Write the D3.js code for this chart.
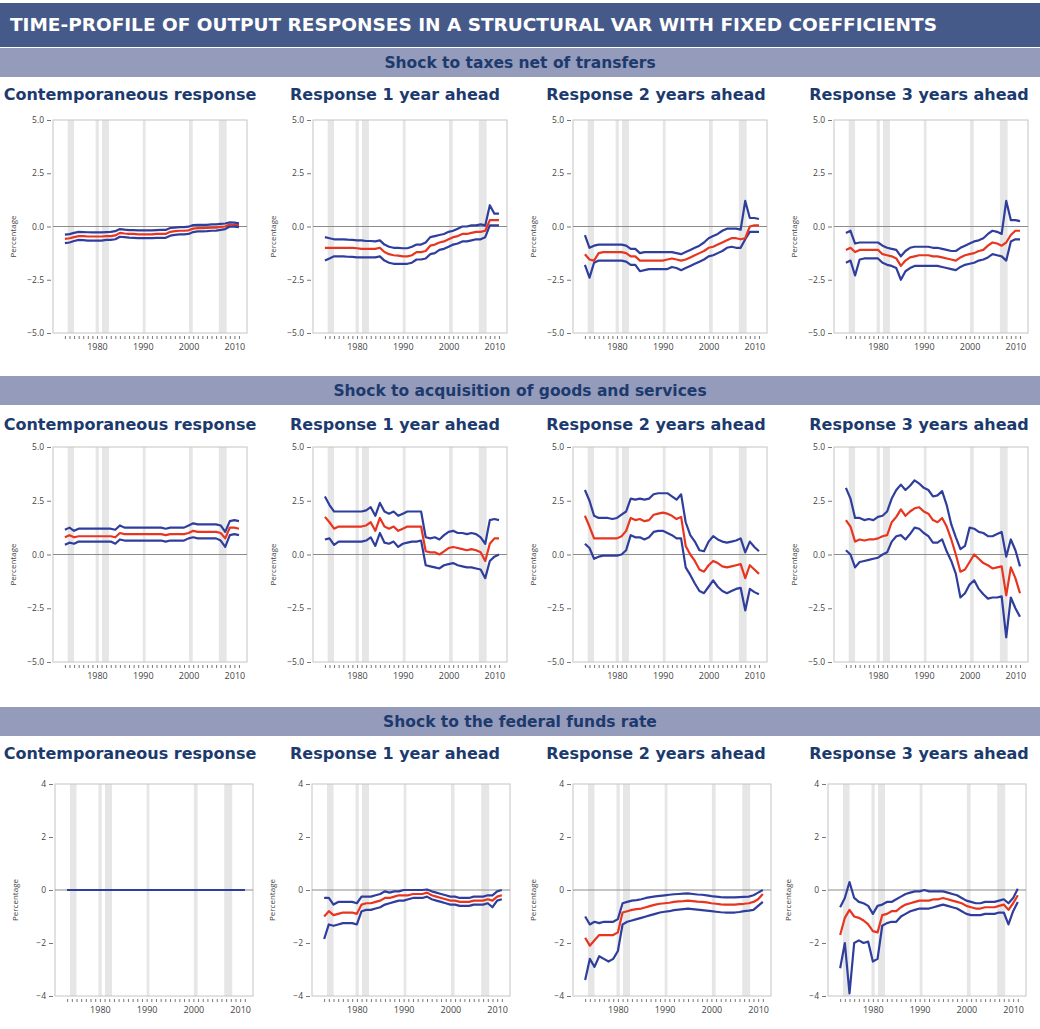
<!DOCTYPE html>
<html>
<head>
<meta charset="utf-8">
<script src="https://cdn.jsdelivr.net/npm/d3@7"></script>
<style>
  body { margin: 0; background: #fff; }
  svg text { font-family: "Open Sans", "Noto Sans", sans-serif; }
  .head { font-family: "DejaVu Sans", "Open Sans", sans-serif; font-weight: bold; }
</style>
</head>
<body>
<div id="chart"></div>
<script>
// chart size
const svgWidth = 1040;
const svgHeight = 1029;

// titles
const mainTitle = "TIME-PROFILE OF OUTPUT RESPONSES IN A STRUCTURAL VAR WITH FIXED COEFFICIENTS";
const shockTitles = ["Shock to taxes net of transfers", "Shock to acquisition of goods and services", "Shock to the federal funds rate"];
const horizonTitles = ["Contemporaneous response", "Response 1 year ahead", "Response 2 years ahead", "Response 3 years ahead"];

// axes
const yTicksPct = [-5, -2.5, 0, 2.5, 5];
const yTicksFfr = [-4, -2, 0, 2, 4];
const xTickLabels = [1980, 1990, 2000, 2010];
const minorYears = d3.range(1973, 2012);

// shaded recession periods
const recessions = [[1973.6, 1975.0], [1979.7, 1980.4], [1981.1, 1982.6], [1990.0, 1990.6], [2000.1, 2000.9], [2006.6, 2008.3]];

// one value per year, 1973 .. 2011
const years = [1973,1974,1975,1976,1977,1978,1979,1980,1981,1982,1983,1984,1985,1986,1987,1988,1989,1990,1991,1992,1993,1994,1995,1996,1997,1998,1999,2000,2001,2002,2003,2004,2005,2006,2007,2008,2009,2010,2011];

// shock to taxes net of transfers
const tx0Mid = [-0.58,-0.55,-0.5,-0.45,-0.45,-0.47,-0.47,-0.47,-0.47,-0.45,-0.45,-0.42,-0.3,-0.33,-0.35,-0.35,-0.37,-0.37,-0.37,-0.37,-0.35,-0.35,-0.35,-0.25,-0.22,-0.2,-0.2,-0.18,-0.1,-0.08,-0.08,-0.07,-0.05,-0.05,-0.02,0.0,0.1,0.08,0.05];
const tx0Hi  = [-0.38,-0.36,-0.3,-0.25,-0.26,-0.27,-0.28,-0.28,-0.28,-0.26,-0.25,-0.22,-0.12,-0.15,-0.17,-0.17,-0.18,-0.18,-0.18,-0.18,-0.17,-0.16,-0.16,-0.07,-0.05,-0.03,-0.03,-0.01,0.07,0.08,0.08,0.08,0.1,0.1,0.12,0.14,0.2,0.18,0.15];
const tx0Lo  = [-0.78,-0.75,-0.68,-0.63,-0.64,-0.66,-0.66,-0.66,-0.66,-0.63,-0.63,-0.6,-0.48,-0.5,-0.52,-0.53,-0.55,-0.55,-0.55,-0.55,-0.53,-0.53,-0.53,-0.43,-0.39,-0.37,-0.37,-0.35,-0.26,-0.23,-0.23,-0.22,-0.2,-0.19,-0.16,-0.12,0.0,-0.01,-0.03];

const tx1Mid = [-1.0,-1.0,-1.0,-1.0,-1.0,-1.0,-1.0,-1.02,-1.05,-1.05,-1.05,-1.05,-1.0,-1.2,-1.3,-1.35,-1.37,-1.4,-1.4,-1.35,-1.2,-1.2,-1.15,-0.9,-0.85,-0.75,-0.7,-0.6,-0.5,-0.45,-0.35,-0.35,-0.3,-0.25,-0.25,-0.2,0.3,0.3,0.3];
const tx1Hi  = [-0.5,-0.55,-0.6,-0.6,-0.6,-0.62,-0.63,-0.65,-0.65,-0.68,-0.68,-0.7,-0.65,-0.85,-0.95,-1.0,-1.0,-1.02,-1.02,-0.95,-0.85,-0.85,-0.75,-0.5,-0.45,-0.4,-0.35,-0.25,-0.2,-0.1,0.0,0.0,0.05,0.05,0.1,0.05,1.0,0.6,0.6];
const tx1Lo  = [-1.6,-1.5,-1.4,-1.4,-1.4,-1.42,-1.43,-1.45,-1.45,-1.45,-1.45,-1.45,-1.4,-1.6,-1.7,-1.75,-1.75,-1.75,-1.75,-1.7,-1.55,-1.55,-1.5,-1.3,-1.25,-1.1,-1.05,-0.95,-0.85,-0.8,-0.7,-0.7,-0.65,-0.6,-0.6,-0.5,0.05,0.05,0.05];

const tx2Mid = [-1.3,-1.55,-1.6,-1.25,-1.2,-1.2,-1.2,-1.2,-1.2,-1.25,-1.4,-1.4,-1.6,-1.6,-1.6,-1.6,-1.6,-1.6,-1.55,-1.5,-1.55,-1.6,-1.55,-1.45,-1.35,-1.25,-1.15,-1.0,-0.95,-0.85,-0.75,-0.65,-0.55,-0.55,-0.6,-0.55,0.0,0.05,0.05];
const tx2Hi  = [-0.4,-1.0,-0.9,-0.85,-0.85,-0.85,-0.85,-0.85,-0.85,-0.9,-1.05,-1.05,-1.25,-1.2,-1.2,-1.2,-1.2,-1.2,-1.2,-1.2,-1.25,-1.3,-1.2,-1.1,-1.0,-0.9,-0.75,-0.55,-0.45,-0.35,-0.2,-0.1,-0.1,-0.1,-0.15,1.2,0.4,0.4,0.35];
const tx2Lo  = [-1.8,-2.4,-1.7,-1.6,-1.6,-1.6,-1.6,-1.6,-1.6,-1.65,-1.8,-1.8,-2.1,-2.05,-2.0,-2.0,-2.0,-2.0,-2.0,-1.9,-1.95,-2.05,-1.95,-1.85,-1.75,-1.65,-1.55,-1.4,-1.35,-1.25,-1.15,-1.0,-0.95,-1.0,-1.0,-0.6,-0.25,-0.25,-0.25];

const tx3Mid = [-1.1,-1.0,-1.2,-1.1,-1.1,-1.1,-1.1,-1.1,-1.3,-1.35,-1.4,-1.5,-1.85,-1.6,-1.45,-1.4,-1.35,-1.35,-1.35,-1.4,-1.4,-1.45,-1.5,-1.55,-1.6,-1.45,-1.35,-1.3,-1.25,-1.15,-1.1,-0.9,-0.75,-0.8,-0.9,-0.75,-0.4,-0.2,-0.2];
const tx3Hi  = [-0.3,-0.2,-0.8,-0.75,-0.75,-0.75,-0.75,-0.75,-0.9,-1.0,-1.05,-1.1,-1.4,-1.15,-1.0,-0.95,-0.95,-0.95,-0.95,-1.0,-1.0,-1.05,-1.1,-1.15,-1.15,-1.0,-0.9,-0.8,-0.7,-0.65,-0.55,-0.35,-0.2,-0.25,-0.35,1.2,0.3,0.3,0.25];
const tx3Lo  = [-1.7,-1.6,-2.3,-1.55,-1.5,-1.5,-1.5,-1.5,-1.7,-1.8,-1.85,-1.95,-2.5,-2.1,-1.95,-1.85,-1.85,-1.85,-1.85,-1.85,-1.85,-1.9,-1.95,-2.0,-2.05,-1.9,-1.8,-1.75,-1.7,-1.6,-1.55,-1.45,-1.3,-1.35,-1.4,-1.6,-0.7,-0.6,-0.6];

// shock to acquisition of goods and services
const gs0Mid = [0.8,0.9,0.8,0.85,0.85,0.85,0.85,0.85,0.85,0.85,0.85,0.8,1.0,0.95,0.95,0.95,0.95,0.95,0.95,0.95,0.95,0.95,0.9,0.95,0.95,0.95,0.95,1.0,1.1,1.05,1.05,1.05,1.05,1.05,1.0,0.75,1.25,1.25,1.2];
const gs0Hi  = [1.15,1.25,1.1,1.2,1.2,1.2,1.2,1.2,1.2,1.2,1.2,1.15,1.35,1.25,1.25,1.25,1.25,1.25,1.25,1.25,1.25,1.25,1.2,1.25,1.25,1.25,1.25,1.35,1.45,1.4,1.4,1.4,1.4,1.4,1.35,1.05,1.55,1.6,1.55];
const gs0Lo  = [0.45,0.55,0.5,0.6,0.6,0.6,0.6,0.6,0.6,0.6,0.6,0.5,0.7,0.65,0.65,0.65,0.65,0.65,0.65,0.65,0.65,0.65,0.6,0.65,0.65,0.65,0.65,0.75,0.8,0.75,0.75,0.75,0.75,0.75,0.65,0.35,0.9,0.95,0.9];

const gs1Mid = [1.75,1.5,1.2,1.3,1.3,1.3,1.3,1.3,1.3,1.35,1.5,1.1,1.7,1.3,1.2,1.3,1.1,1.2,1.3,1.3,1.3,1.3,0.15,0.1,0.1,0.0,0.15,0.3,0.35,0.3,0.25,0.2,0.25,0.2,0.1,-0.3,0.5,0.75,0.75];
const gs1Hi  = [2.7,2.3,2.0,2.0,2.0,2.0,2.0,2.0,2.0,2.05,2.2,1.8,2.4,2.0,1.9,2.0,1.8,1.9,2.0,2.0,2.0,2.0,0.8,0.75,0.8,0.7,0.9,1.05,1.1,1.0,1.0,0.95,1.0,0.95,0.8,0.5,1.6,1.65,1.6];
const gs1Lo  = [0.7,0.75,0.45,0.6,0.6,0.6,0.6,0.6,0.6,0.65,0.8,0.4,1.0,0.55,0.5,0.6,0.35,0.5,0.55,0.6,0.6,0.65,-0.5,-0.55,-0.6,-0.65,-0.5,-0.45,-0.4,-0.5,-0.55,-0.6,-0.6,-0.65,-0.7,-1.1,-0.3,-0.1,0.0];

const gs2Mid = [1.8,1.3,0.75,0.75,0.75,0.75,0.75,0.75,0.85,1.1,1.7,1.6,1.65,1.55,1.6,1.85,1.9,1.95,1.9,1.8,1.65,1.75,0.4,0.0,-0.3,-0.7,-0.8,-0.5,-0.3,-0.4,-0.55,-0.6,-0.55,-0.5,-0.45,-1.1,-0.5,-0.7,-0.9];
const gs2Hi  = [3.0,2.5,1.8,1.7,1.7,1.7,1.65,1.7,1.85,2.0,2.6,2.55,2.6,2.55,2.6,2.8,2.85,2.85,2.85,2.7,2.55,2.8,1.5,0.9,0.6,0.2,0.15,0.6,0.85,0.7,0.6,0.55,0.6,0.65,0.75,0.1,0.6,0.35,0.15];
const gs2Lo  = [0.5,0.3,-0.2,-0.1,-0.05,-0.05,-0.05,-0.05,0.0,0.2,0.9,0.8,0.8,0.7,0.8,1.05,1.1,1.1,1.0,0.9,0.75,0.75,-0.6,-0.95,-1.35,-1.7,-1.8,-1.5,-1.2,-1.5,-1.7,-1.8,-1.7,-1.6,-1.55,-2.6,-1.6,-1.75,-1.85];

const gs3Mid = [1.6,1.3,0.6,0.7,0.65,0.7,0.7,0.75,0.85,0.9,1.5,1.75,2.1,1.8,2.0,2.15,2.2,2.0,1.9,1.6,1.5,1.7,1.3,0.7,0.0,-0.8,-0.7,-0.35,0.0,-0.2,-0.4,-0.5,-0.65,-0.6,-0.55,-1.9,-0.6,-1.1,-1.8];
const gs3Hi  = [3.1,2.6,1.7,1.7,1.6,1.65,1.6,1.75,1.8,2.0,2.6,3.0,3.25,3.0,3.2,3.45,3.3,3.1,3.0,2.7,2.75,2.95,2.3,1.4,0.8,0.25,0.4,1.25,1.2,1.05,1.0,0.85,0.85,0.95,1.05,-0.1,0.7,0.2,-0.55];
const gs3Lo  = [0.2,0.0,-0.6,-0.35,-0.3,-0.25,-0.2,-0.15,0.0,0.1,0.6,0.85,0.9,0.7,0.95,1.25,1.2,1.0,0.85,0.55,0.55,0.7,0.15,-0.3,-0.9,-2.0,-1.8,-1.4,-1.2,-1.6,-1.85,-2.05,-2.0,-2.0,-1.95,-3.85,-2.0,-2.5,-2.9];

// shock to the federal funds rate
const ff0Mid = [0,0,0,0,0,0,0,0,0,0,0,0,0,0,0,0,0,0,0,0,0,0,0,0,0,0,0,0,0,0,0,0,0,0,0,0,0,0,0];
const ff0Hi  = [0,0,0,0,0,0,0,0,0,0,0,0,0,0,0,0,0,0,0,0,0,0,0,0,0,0,0,0,0,0,0,0,0,0,0,0,0,0,0];
const ff0Lo  = [0,0,0,0,0,0,0,0,0,0,0,0,0,0,0,0,0,0,0,0,0,0,0,0,0,0,0,0,0,0,0,0,0,0,0,0,0,0,0];

const ff1Mid = [-1.0,-0.8,-0.95,-0.9,-0.85,-0.85,-0.85,-0.9,-0.55,-0.5,-0.5,-0.45,-0.4,-0.3,-0.3,-0.25,-0.2,-0.2,-0.2,-0.15,-0.15,-0.15,-0.1,-0.2,-0.25,-0.3,-0.35,-0.4,-0.4,-0.45,-0.45,-0.45,-0.4,-0.4,-0.4,-0.35,-0.4,-0.25,-0.2];
const ff1Hi  = [-0.3,-0.3,-0.55,-0.45,-0.45,-0.45,-0.45,-0.5,-0.25,-0.25,-0.25,-0.2,-0.15,-0.05,-0.1,-0.05,-0.05,0.0,0.0,0.0,0.0,0.0,0.02,-0.05,-0.1,-0.15,-0.2,-0.25,-0.25,-0.3,-0.3,-0.3,-0.25,-0.25,-0.25,-0.2,-0.2,-0.05,0.0];
const ff1Lo  = [-1.85,-1.3,-1.35,-1.3,-1.25,-1.25,-1.25,-1.3,-0.8,-0.75,-0.75,-0.7,-0.65,-0.55,-0.5,-0.45,-0.4,-0.4,-0.35,-0.3,-0.3,-0.3,-0.25,-0.35,-0.4,-0.45,-0.5,-0.55,-0.55,-0.6,-0.6,-0.6,-0.55,-0.55,-0.55,-0.5,-0.65,-0.4,-0.35];

const ff2Mid = [-1.8,-2.1,-1.9,-1.7,-1.7,-1.7,-1.7,-1.6,-0.85,-0.8,-0.75,-0.72,-0.7,-0.65,-0.6,-0.55,-0.52,-0.5,-0.48,-0.45,-0.43,-0.42,-0.4,-0.42,-0.44,-0.45,-0.47,-0.5,-0.52,-0.54,-0.55,-0.55,-0.55,-0.53,-0.52,-0.5,-0.45,-0.35,-0.15];
const ff2Hi  = [-1.0,-1.3,-1.2,-1.25,-1.2,-1.2,-1.2,-1.1,-0.5,-0.45,-0.4,-0.38,-0.35,-0.3,-0.27,-0.24,-0.22,-0.2,-0.18,-0.16,-0.15,-0.14,-0.13,-0.15,-0.17,-0.18,-0.2,-0.23,-0.25,-0.27,-0.28,-0.28,-0.28,-0.27,-0.26,-0.25,-0.2,-0.1,0.0];
const ff2Lo  = [-3.4,-2.6,-2.9,-2.5,-2.6,-2.7,-2.6,-2.3,-1.3,-1.2,-1.15,-1.1,-1.05,-1.0,-0.95,-0.9,-0.85,-0.82,-0.8,-0.76,-0.74,-0.72,-0.7,-0.72,-0.74,-0.76,-0.78,-0.8,-0.82,-0.84,-0.85,-0.85,-0.85,-0.83,-0.8,-0.78,-0.75,-0.6,-0.45];

const ff3Mid = [-1.7,-1.05,-0.75,-1.0,-1.05,-1.15,-1.3,-1.55,-1.6,-0.95,-0.9,-0.8,-0.8,-0.65,-0.55,-0.5,-0.45,-0.4,-0.4,-0.4,-0.35,-0.35,-0.3,-0.35,-0.4,-0.45,-0.5,-0.6,-0.65,-0.7,-0.7,-0.65,-0.65,-0.65,-0.6,-0.55,-0.75,-0.5,-0.2];
const ff3Hi  = [-0.65,-0.3,0.3,-0.3,-0.45,-0.5,-0.6,-0.9,-0.6,-0.55,-0.45,-0.45,-0.35,-0.25,-0.15,-0.1,-0.05,-0.05,0.0,-0.05,-0.05,-0.05,-0.05,-0.1,-0.15,-0.2,-0.3,-0.4,-0.45,-0.5,-0.5,-0.45,-0.45,-0.45,-0.4,-0.35,-0.5,-0.3,0.05];
const ff3Lo  = [-2.95,-2.0,-3.9,-2.0,-1.9,-2.0,-1.95,-2.7,-2.6,-1.35,-1.25,-1.2,-1.2,-1.0,-0.9,-0.8,-0.75,-0.7,-0.7,-0.7,-0.65,-0.6,-0.55,-0.6,-0.65,-0.7,-0.8,-0.9,-0.95,-0.95,-0.95,-0.9,-0.9,-0.9,-0.85,-0.85,-1.3,-0.8,-0.45];

// rows of panels built from the arrays above
const rows = [
    { title: shockTitles[0], ticks: yTicksPct, fmt: d3.format(".1f"), domain: [-5, 5],
      panels: [[tx0Lo, tx0Mid, tx0Hi], [tx1Lo, tx1Mid, tx1Hi], [tx2Lo, tx2Mid, tx2Hi], [tx3Lo, tx3Mid, tx3Hi]] },
    { title: shockTitles[1], ticks: yTicksPct, fmt: d3.format(".1f"), domain: [-5, 5],
      panels: [[gs0Lo, gs0Mid, gs0Hi], [gs1Lo, gs1Mid, gs1Hi], [gs2Lo, gs2Mid, gs2Hi], [gs3Lo, gs3Mid, gs3Hi]] },
    { title: shockTitles[2], ticks: yTicksFfr, fmt: d3.format("d"), domain: [-4, 4],
      panels: [[ff0Lo, ff0Mid, ff0Hi], [ff1Lo, ff1Mid, ff1Hi], [ff2Lo, ff2Mid, ff2Hi], [ff3Lo, ff3Mid, ff3Hi]] }
];

// layout
const barTop = [48, 376, 707];
const barHeight = 29;
const colTitleY = [94, 424, 753];
const colTitleX = [130, 395, 656, 919];
const plotTop = [120, 447, 784];
const plotHeight = [213, 215, 212];
const plotLeft = [[53, 313, 573, 834], [53, 313, 573, 834], [55, 312, 573, 828]];
const plotWidth = [194, 194, 198];

const colors = {
    header: "#465a8a",
    subBar: "#959bba",
    darkText: "#1c3a6e",
    recession: "#e6e6e6",
    box: "#c4c4c4",
    zero: "#8c8c8c",
    blue: "#2f3e9c",
    red: "#e8351f",
    tick: "#444"
};

const svg = d3.select("#chart")
    .append("svg")
    .attr("width", svgWidth)
    .attr("height", svgHeight);

// main title bar
svg.append("rect")
    .attr("x", 0).attr("y", 3)
    .attr("width", svgWidth).attr("height", 44)
    .attr("fill", colors.header);

svg.append("text")
    .text(mainTitle)
    .attr("class", "head")
    .attr("x", 10).attr("y", 31)
    .attr("fill", "#fff")
    .attr("font-size", "17px")
    .attr("textLength", 927)
    .attr("lengthAdjust", "spacingAndGlyphs");

rows.forEach(function (row, r) {
    // grey sub header bar with the shock name
    svg.append("rect")
        .attr("x", 0).attr("y", barTop[r])
        .attr("width", svgWidth).attr("height", barHeight)
        .attr("fill", colors.subBar);

    svg.append("text")
        .text(row.title)
        .attr("class", "head")
        .attr("x", svgWidth / 2).attr("y", barTop[r] + barHeight / 2 + 5.5)
        .attr("text-anchor", "middle")
        .attr("fill", colors.darkText)
        .attr("font-size", "15.5px");

    row.panels.forEach(function (series, c) {
        // column heading
        svg.append("text")
            .text(horizonTitles[c])
            .attr("class", "head")
            .attr("x", colTitleX[c]).attr("y", colTitleY[r] + 6)
            .attr("text-anchor", "middle")
            .attr("fill", colors.darkText)
            .attr("font-size", "16px");

        const w = plotWidth[r];
        const h = plotHeight[r];
        const g = svg.append("g")
            .attr("transform", `translate(${plotLeft[r][c]},${plotTop[r]})`);

        const x = d3.scaleLinear().domain([1970.4, 2012.75]).range([0, w]);
        const y = d3.scaleLinear().domain(row.domain).range([h, 0]);

        // recession shading
        g.selectAll(".rec")
            .data(recessions)
            .enter()
            .append("rect")
            .attr("x", d => x(d[0]))
            .attr("width", d => x(d[1]) - x(d[0]))
            .attr("y", 0)
            .attr("height", h)
            .attr("fill", colors.recession);

        // light frame
        g.append("rect")
            .attr("width", w).attr("height", h)
            .attr("fill", "none")
            .attr("stroke", colors.box)
            .attr("stroke-width", 1);

        // zero line
        g.append("line")
            .attr("x1", 0).attr("x2", w)
            .attr("y1", y(0)).attr("y2", y(0))
            .attr("stroke", colors.zero)
            .attr("stroke-width", 1);

        // y axis, ticks detached from the frame
        const yAxis = g.append("g")
            .attr("transform", "translate(-2,0)")
            .call(d3.axisLeft(y).tickValues(row.ticks).tickFormat(row.fmt).tickSize(4).tickPadding(3));
        yAxis.select(".domain").remove();
        yAxis.selectAll("line").attr("stroke", "#777");
        yAxis.selectAll("text").attr("font-size", "8.5px").attr("fill", colors.tick)
            .style("font-family", "'Open Sans', sans-serif");

        // x axis: yearly minor ticks and decade labels
        const xMinor = g.append("g")
            .attr("transform", `translate(0,${h + 3})`)
            .call(d3.axisBottom(x).tickValues(minorYears).tickFormat("").tickSize(3));
        xMinor.select(".domain").remove();
        xMinor.selectAll("line").attr("stroke", "#777");

        const xAxis = g.append("g")
            .attr("transform", `translate(0,${h})`)
            .call(d3.axisBottom(x).tickValues(xTickLabels).tickFormat(d3.format("d")).tickSize(0).tickPadding(11));
        xAxis.select(".domain").remove();
        xAxis.selectAll("text").attr("font-size", "9px").attr("fill", colors.tick)
            .style("font-family", "'Open Sans', sans-serif");

        // axis title
        g.append("text")
            .text("Percentage")
            .attr("transform", `translate(${-37},${y(0) + 10}) rotate(-90)`)
            .attr("text-anchor", "middle")
            .attr("font-size", "8px")
            .attr("fill", colors.tick);

        // the three lines: central estimate and the two bands
        const line = d3.line()
            .x((d, i) => x(years[i]))
            .y(d => y(d));

        const order = [[series[1], colors.red], [series[0], colors.blue], [series[2], colors.blue]];
        if (c > 0) order.push(order.shift());
        order.forEach(function (s) {
            g.append("path")
                .datum(s[0])
                .attr("d", line)
                .attr("fill", "none")
                .attr("stroke", s[1])
                .attr("stroke-width", 2.2)
                .attr("stroke-linejoin", "round");
        });
    });
});
</script>
</body>
</html>
